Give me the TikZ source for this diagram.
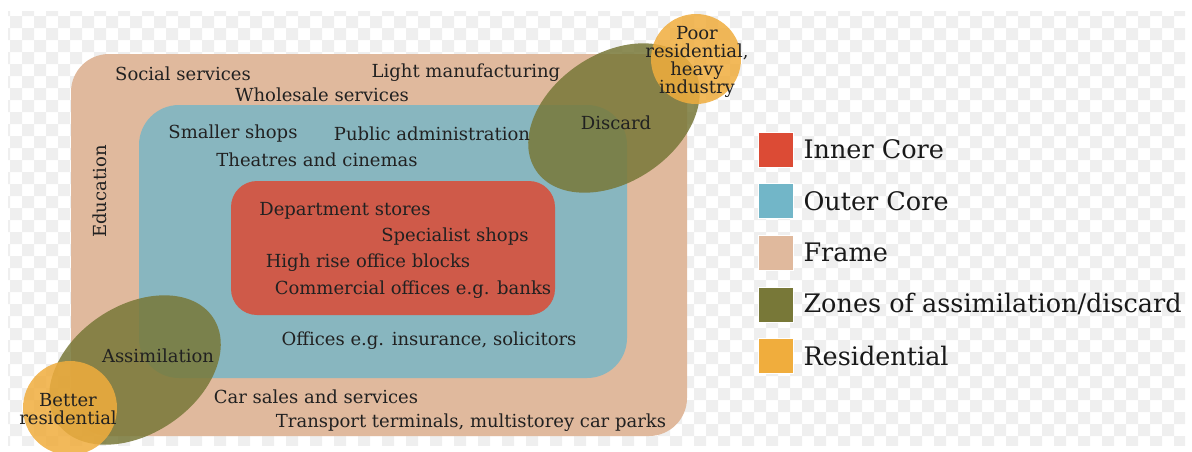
\documentclass[tikz,border=0pt]{standalone}
\usepackage{fontspec}
\setmainfont{DejaVu Serif}
\usetikzlibrary{positioning}

\definecolor{innercore}{HTML}{DC4B35}
\definecolor{outercore}{HTML}{72B6C8}
\definecolor{framezone}{HTML}{E0B99D}
\definecolor{discardzone}{HTML}{787838}
\definecolor{residential}{HTML}{F0AD3D}
\definecolor{checker}{HTML}{EFEFEF}

\begin{document}
\begin{tikzpicture}[x=1pt,y=-1pt,font=\fontsize{18}{18}\selectfont,node distance=16pt]

	\tikzset{zone lbl/.style={inner sep=0pt, text=black!87, yshift=-1.5pt},
		key/.style={minimum size=35pt, inner sep=0pt, draw=white, line width=0.6pt},
		key lbl/.style={inner sep=0pt, text=black!90,
			font=\fontsize{25.5}{30}\selectfont}}

	\useasboundingbox (0,0) rectangle (1192,451);

	% checkered background
	\begin{scope}
		\clip (8,11) rectangle (1185,445);
		\foreach \i in {0,2,...,98}
			\foreach \j in {0,2,...,36}
				\fill[checker] (-2+12*\i,4+12*\j) rectangle ++(12,12)
					(10+12*\i,16+12*\j) rectangle ++(12,12);
	\end{scope}

	% nested zones
	\fill[framezone, rounded corners=38pt] (71,54) rectangle (687,436);
	\fill[outercore, fill opacity=0.8, rounded corners=40pt] (139,105) rectangle (627,378);
	\fill[innercore, fill opacity=0.85, rounded corners=26pt] (231,181) rectangle (555,315);

	\fill[discardzone, fill opacity=0.85, rotate around={34:(614,118)}]
		(614,118) ellipse [x radius=94, y radius=64];
	\fill[discardzone, fill opacity=0.85, rotate around={34:(135,370)}]
		(135,370) ellipse [x radius=94, y radius=64];
	\fill[residential, fill opacity=0.85] (696,59) circle [radius=45];
	\fill[residential, fill opacity=0.85] (70,408) circle [radius=47];

	% frame
	\node[zone lbl] (social) at (183,72) {Social services};
	\node[zone lbl] (light) at (466,71) {Light manufacturing};
	\node[zone lbl] (wholesale) at (322,93) {Wholesale services};
	\node[zone lbl, rotate=90] (edu) at (100,190) {Education};
	\node[zone lbl] (cars) at (316,395) {Car sales and services};
	\node[zone lbl] (transport) at (471,421) {Transport terminals, multistorey car parks};

	% outer core
	\node[zone lbl] (smaller) at (233,132) {Smaller shops};
	\node[zone lbl] (public) at (432,132) {Public administration};
	\node[zone lbl] (theatres) at (317,158) {Theatres and cinemas};
	\node[zone lbl] (offices) at (429,339) {Offices e.g. insurance, solicitors};

	% inner core
	\node[zone lbl] (dept) at (345,209) {Department stores};
	\node[zone lbl] (specialist) at (455,235) {Specialist shops};
	\node[zone lbl] (highrise) at (368,261) {High rise office blocks};
	\node[zone lbl] (commercial) at (413,288) {Commercial offices e.g. banks};

	% assimilation / discard
	\node[zone lbl] (discard) at (616,121) {Discard};
	\node[zone lbl] (assim) at (158,354) {Assimilation};
	\node[zone lbl, align=center] (poor) at (697,60) {Poor\\residential,\\heavy\\industry};
	\node[zone lbl, align=center] (better) at (68,408) {Better\\residential};

	% legend
	\node[key, fill=innercore] (k1) at (775.5,149.5) {};
	\node[key, fill=outercore, below=of k1] (k2) {};
	\node[key, fill=framezone, below=of k2] (k3) {};
	\node[key, fill=discardzone, below=of k3] (k4) {};
	\node[key, fill=residential, below=of k4] (k5) {};
	\node[key lbl, right=10pt of k1] {Inner Core};
	\node[key lbl, right=10pt of k2] {Outer Core};
	\node[key lbl, right=10pt of k3] {Frame};
	\node[key lbl, right=10pt of k4] {Zones of assimilation/discard};
	\node[key lbl, right=10pt of k5] {Residential};

\end{tikzpicture}
\end{document}
